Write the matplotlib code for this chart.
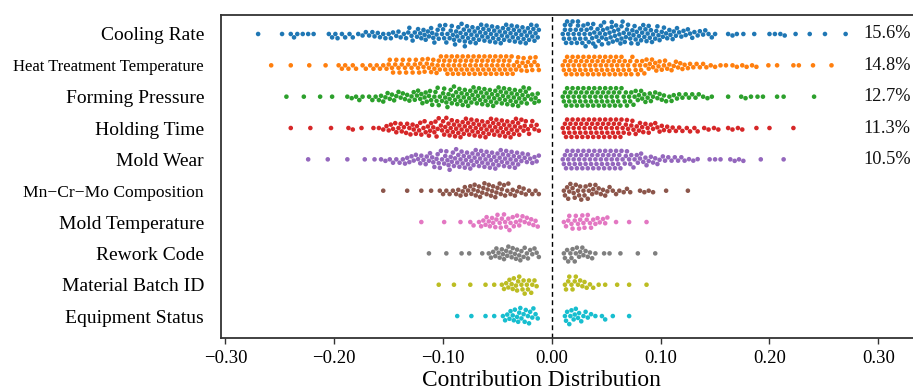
import matplotlib
matplotlib.use("Agg")
import matplotlib.pyplot as plt
from matplotlib.ticker import FuncFormatter
import pandas as pd
import seaborn as sns
import warnings
warnings.filterwarnings("ignore")

plt.rcParams['font.family'] = ['Liberation Serif', 'DejaVu Serif']

features = ["Cooling Rate", "Heat Treatment Temperature", "Forming Pressure",
            "Holding Time", "Mold Wear", "Mn\u2212Cr\u2212Mo Composition",
            "Mold Temperature", "Rework Code", "Material Batch ID", "Equipment Status"]
colors = ["#1f77b4", "#ff7f0e", "#2ca02c", "#d62728", "#9467bd",
          "#8c564b", "#e377c2", "#7f7f7f", "#bcbd22", "#17becf"]
importance = ["15.6%", "14.8%", "12.7%", "11.3%", "10.5%", "", "", "", "", ""]
xticks = [-0.30, -0.20, -0.10, 0.00, 0.10, 0.20, 0.30]

# contributions in thousandths (negative side / positive side)
cooling_neg = [-270,-248,-240,-237,-234,-229,-224,-219,-205,-202,-199,-197,-193,-190,-186,-183,-178,-174,-171,-168,-165,-163,-160,-158,-155,-153,-150,-148,-146,-143,-141,-139,-136,-134,-132,-131,-129,-128,-126,-124,-123,-121,-120,-118,-117,-116,-114,-113,-111,-110,-109,-108,-106,-105,-104,-103,-101,-100,-99,-98,-97,-96,-94,-93,-92,-91,-90,-89,-88,-87,-86,-85,-84,-83,-82,-81,-80,-80,-79,-78,-77,-76,-75,-74,-73,-72,-71,-70,-69,-68,-67,-66,-65,-64,-63,-62,-61,-60,-59,-58,-57,-56,-55,-54,-53,-52,-51,-50,-49,-48,-47,-46,-45,-44,-43,-42,-41,-40,-39,-38,-37,-36,-35,-34,-33,-32,-31,-30,-29,-28,-27,-26,-25,-24,-23,-22,-21,-20,-19,-18,-17,-16,-15,-14,-13,-12]
cooling_pos = [10,11,12,12,13,14,15,16,17,17,18,19,20,21,22,23,24,24,25,26,27,28,29,30,31,31,32,33,34,35,36,37,38,38,39,40,41,42,43,44,45,46,46,47,48,49,50,51,52,53,54,55,55,56,57,58,59,60,61,62,63,64,64,65,66,67,68,69,70,71,72,73,74,75,76,77,78,79,80,81,82,83,84,85,86,87,88,89,90,91,92,93,95,96,97,98,99,101,102,103,105,106,108,109,111,112,114,115,117,119,121,123,125,127,129,131,134,136,139,141,144,147,150,162,166,170,176,186,200,205,210,214,224,237,251,270]
heat_neg = [-258,-240,-223,-208,-196,-193,-190,-187,-183,-180,-174,-171,-167,-164,-161,-158,-155,-152,-150,-149,-147,-146,-144,-143,-141,-140,-138,-137,-135,-134,-132,-131,-129,-128,-126,-125,-123,-122,-121,-119,-118,-117,-115,-114,-113,-111,-110,-109,-108,-106,-105,-104,-103,-102,-100,-99,-98,-97,-96,-95,-94,-93,-92,-91,-90,-89,-88,-87,-86,-85,-84,-83,-82,-81,-80,-79,-78,-77,-76,-75,-74,-73,-72,-71,-70,-69,-68,-67,-66,-65,-64,-63,-62,-61,-60,-59,-58,-57,-56,-55,-54,-53,-52,-51,-50,-49,-48,-47,-46,-45,-44,-43,-42,-41,-40,-39,-38,-37,-36,-35,-33,-32,-31,-30,-28,-27,-26,-24,-23,-22,-20,-19,-18,-16,-15,-13,-12]
heat_pos = [10,11,12,13,14,15,16,17,18,19,20,21,22,23,24,25,26,27,28,29,30,31,32,33,34,35,36,37,38,39,40,41,42,43,44,45,46,47,48,49,50,51,52,53,54,55,56,57,58,59,60,61,62,63,64,65,66,67,68,70,71,72,73,74,76,77,78,79,81,82,83,85,86,87,89,90,92,93,95,96,98,99,101,103,104,106,108,110,112,114,116,118,120,122,125,127,130,133,136,139,142,146,150,155,160,166,170,175,179,184,188,199,207,222,227,240,257]
forming_neg = [-244,-228,-213,-202,-188,-184,-180,-177,-174,-168,-165,-162,-159,-157,-155,-153,-151,-149,-147,-145,-143,-141,-139,-137,-135,-133,-131,-129,-127,-126,-124,-123,-121,-120,-119,-117,-116,-115,-113,-112,-111,-110,-108,-107,-106,-105,-104,-103,-101,-100,-99,-98,-97,-96,-95,-94,-93,-92,-91,-90,-89,-88,-87,-86,-85,-84,-83,-82,-81,-80,-79,-78,-77,-76,-75,-74,-73,-72,-71,-70,-69,-68,-67,-66,-65,-64,-63,-62,-61,-60,-59,-58,-57,-56,-55,-54,-53,-52,-51,-50,-49,-48,-47,-46,-45,-44,-43,-42,-41,-40,-39,-38,-37,-36,-35,-34,-33,-32,-31,-30,-29,-28,-27,-26,-25,-24,-23,-22,-21,-19,-18,-16,-15,-13,-12]
forming_pos = [10,11,12,13,14,15,16,17,18,19,20,21,22,23,24,25,26,27,28,29,30,31,32,33,34,35,36,37,38,39,40,41,42,43,44,45,46,47,48,49,50,51,52,53,54,55,56,57,58,59,60,61,62,63,64,66,67,68,69,71,72,73,75,76,77,79,80,82,83,85,86,88,90,91,93,95,97,99,101,103,105,108,110,112,115,117,120,123,126,129,132,135,139,143,147,162,174,178,183,189,194,207,213,241]
holding_neg = [-240,-222,-203,-187,-183,-175,-164,-159,-155,-152,-150,-148,-146,-144,-143,-141,-139,-138,-136,-134,-133,-131,-130,-128,-127,-125,-124,-122,-121,-120,-118,-117,-116,-114,-113,-112,-111,-109,-108,-107,-106,-105,-104,-102,-101,-100,-99,-98,-97,-96,-95,-94,-93,-92,-91,-90,-89,-88,-87,-86,-85,-84,-83,-82,-81,-80,-79,-78,-77,-76,-75,-74,-73,-72,-71,-70,-69,-68,-67,-66,-65,-64,-63,-62,-61,-60,-59,-58,-57,-56,-55,-54,-53,-52,-51,-50,-49,-48,-47,-46,-45,-44,-43,-42,-41,-40,-39,-38,-37,-36,-35,-34,-33,-32,-31,-30,-29,-28,-26,-25,-24,-22,-21,-19,-18,-16,-14,-12]
holding_pos = [10,11,12,13,14,15,16,17,18,19,20,21,22,23,24,25,26,27,28,29,30,31,32,33,34,35,36,37,38,39,40,41,42,43,44,45,46,47,48,49,50,51,52,53,54,55,56,57,58,59,60,61,62,63,64,65,66,68,69,70,71,73,74,75,77,78,80,81,83,84,86,88,89,91,93,95,97,99,101,103,106,108,111,114,117,120,124,127,131,134,140,144,149,153,162,166,171,175,188,200,222]
wear_neg = [-224,-206,-188,-172,-163,-157,-153,-149,-146,-143,-140,-137,-135,-133,-131,-129,-127,-125,-123,-121,-120,-118,-116,-115,-113,-112,-110,-109,-108,-106,-105,-104,-103,-102,-101,-99,-98,-97,-96,-95,-94,-93,-92,-91,-90,-89,-88,-87,-86,-85,-84,-83,-82,-81,-80,-79,-78,-77,-76,-75,-74,-73,-72,-71,-70,-69,-68,-67,-66,-65,-64,-63,-62,-61,-60,-59,-58,-57,-56,-55,-54,-53,-52,-51,-50,-49,-48,-47,-46,-45,-44,-43,-42,-41,-40,-39,-38,-37,-36,-35,-34,-33,-32,-31,-30,-28,-27,-25,-23,-22,-20,-18,-16,-14,-12]
wear_pos = [10,11,12,13,14,15,16,17,18,19,20,21,22,23,24,25,26,27,28,29,30,31,32,33,34,35,36,37,38,39,40,41,42,43,44,45,46,47,48,49,50,51,52,53,54,55,56,57,58,59,60,61,62,63,64,65,67,68,69,71,72,73,75,76,78,79,81,82,84,86,87,89,91,93,95,97,99,102,104,107,110,113,116,119,122,126,130,134,145,150,155,164,168,172,176,192,213]
mncrmo_neg = [-155,-133,-120,-111,-103,-100,-97,-94,-91,-88,-86,-84,-82,-80,-79,-77,-75,-74,-72,-71,-70,-68,-67,-66,-64,-63,-62,-60,-59,-58,-56,-55,-54,-52,-51,-50,-48,-47,-46,-44,-43,-41,-40,-38,-36,-34,-32,-30,-28,-26,-24,-21,-18,-15,-12]
mncrmo_pos = [11,12,14,15,16,17,19,20,21,22,24,25,26,27,29,30,31,33,34,35,37,38,40,41,43,45,47,49,51,53,56,59,62,66,69,72,81,85,89,93,105,125]
moldtemp_neg = [-120,-99,-84,-75,-72,-67,-65,-63,-61,-60,-58,-57,-55,-54,-52,-51,-50,-48,-47,-46,-44,-43,-42,-40,-39,-38,-36,-35,-33,-32,-30,-29,-27,-25,-23,-21,-19,-17,-15,-13]
moldtemp_pos = [11,13,15,16,18,19,21,22,24,25,26,28,29,30,32,33,35,36,38,40,42,44,47,49,51,59,71,87]
rework_neg = [-113,-97,-83,-76,-64,-58,-56,-54,-52,-51,-49,-48,-46,-45,-44,-42,-41,-40,-38,-37,-36,-34,-33,-32,-30,-29,-28,-26,-25,-23,-22,-20,-18,-16,-14,-12]
rework_pos = [11,12,14,15,17,18,19,21,22,23,25,26,28,29,31,33,35,37,40,48,53,63,79,95]
batch_neg = [-104,-90,-75,-61,-53,-46,-44,-42,-40,-39,-37,-36,-35,-33,-32,-31,-30,-28,-27,-26,-25,-23,-22,-21,-19,-18,-16,-14]
batch_pos = [12,13,15,16,18,19,21,22,24,26,28,30,32,35,38,43,49,60,71,87]
status_neg = [-87,-74,-61,-53,-45,-43,-41,-39,-38,-36,-35,-34,-32,-31,-30,-29,-28,-26,-25,-24,-22,-21,-20,-18,-17,-15,-13]
status_pos = [12,13,14,16,17,18,20,21,22,24,25,27,29,31,33,36,40,46,49,56,71]

series = [cooling_neg + cooling_pos, heat_neg + heat_pos, forming_neg + forming_pos,
          holding_neg + holding_pos, wear_neg + wear_pos, mncrmo_neg + mncrmo_pos,
          moldtemp_neg + moldtemp_pos, rework_neg + rework_pos,
          batch_neg + batch_pos, status_neg + status_pos]

rows = []
for name, vals in zip(features, series):
    for v in vals:
        rows.append((name, v / 1000.0))
df = pd.DataFrame(rows, columns=["feature", "value"])

W, H = 913, 390
fig = plt.figure(figsize=(W / 100, H / 100), dpi=100)
ax = fig.add_axes([220.7 / W, (H - 338) / H, (W - 220.7) / W + 0.002, (338 - 15) / H])

ax.axvline(0, color="black", lw=1.0, ls=(0, (3.5, 2.5)), zorder=1)
sns.swarmplot(data=df, x="value", y="feature", hue="feature", order=features,
              hue_order=features, palette=colors, size=3.3, linewidth=0,
              legend=False, ax=ax, zorder=3)

ax.set_xlim(-0.3044, 0.3336)
ax.set_ylim(9.70, -0.606)
ax.set_xticks(xticks)
ax.xaxis.set_major_formatter(FuncFormatter(
    lambda v, p: ("%.2f" % v).replace("-", "\u2212") if abs(v) > 1e-9 else "0.00"))
ax.tick_params(axis="x", labelsize=13.5, length=4.5, width=1.0, color="#333333", pad=4)
ax.tick_params(axis="y", length=0, pad=12)
ax.set_yticks(range(len(features)))
ax.set_yticklabels(features)
label_sizes = [14.0, 12.0, 14.0, 14.0, 14.0, 12.6, 14.0, 14.0, 14.0, 14.0]
for lab, fs in zip(ax.get_yticklabels(), label_sizes):
    lab.set_fontsize(fs)
ax.set_xlabel("")
ax.set_ylabel("")
for s in ["left", "top", "bottom"]:
    ax.spines[s].set_color("#333333")
    ax.spines[s].set_linewidth(1.3)
ax.spines["right"].set_visible(False)

for i, t in enumerate(importance):
    if t:
        ax.text(0.2867, i, t, ha="left", va="center", fontsize=13.2, color="#111111")

fig.text(541 / W, (H - 381) / H, "Contribution Distribution", ha="center", va="center",
         fontsize=16.8)

fig.savefig("out.png", dpi=100)
